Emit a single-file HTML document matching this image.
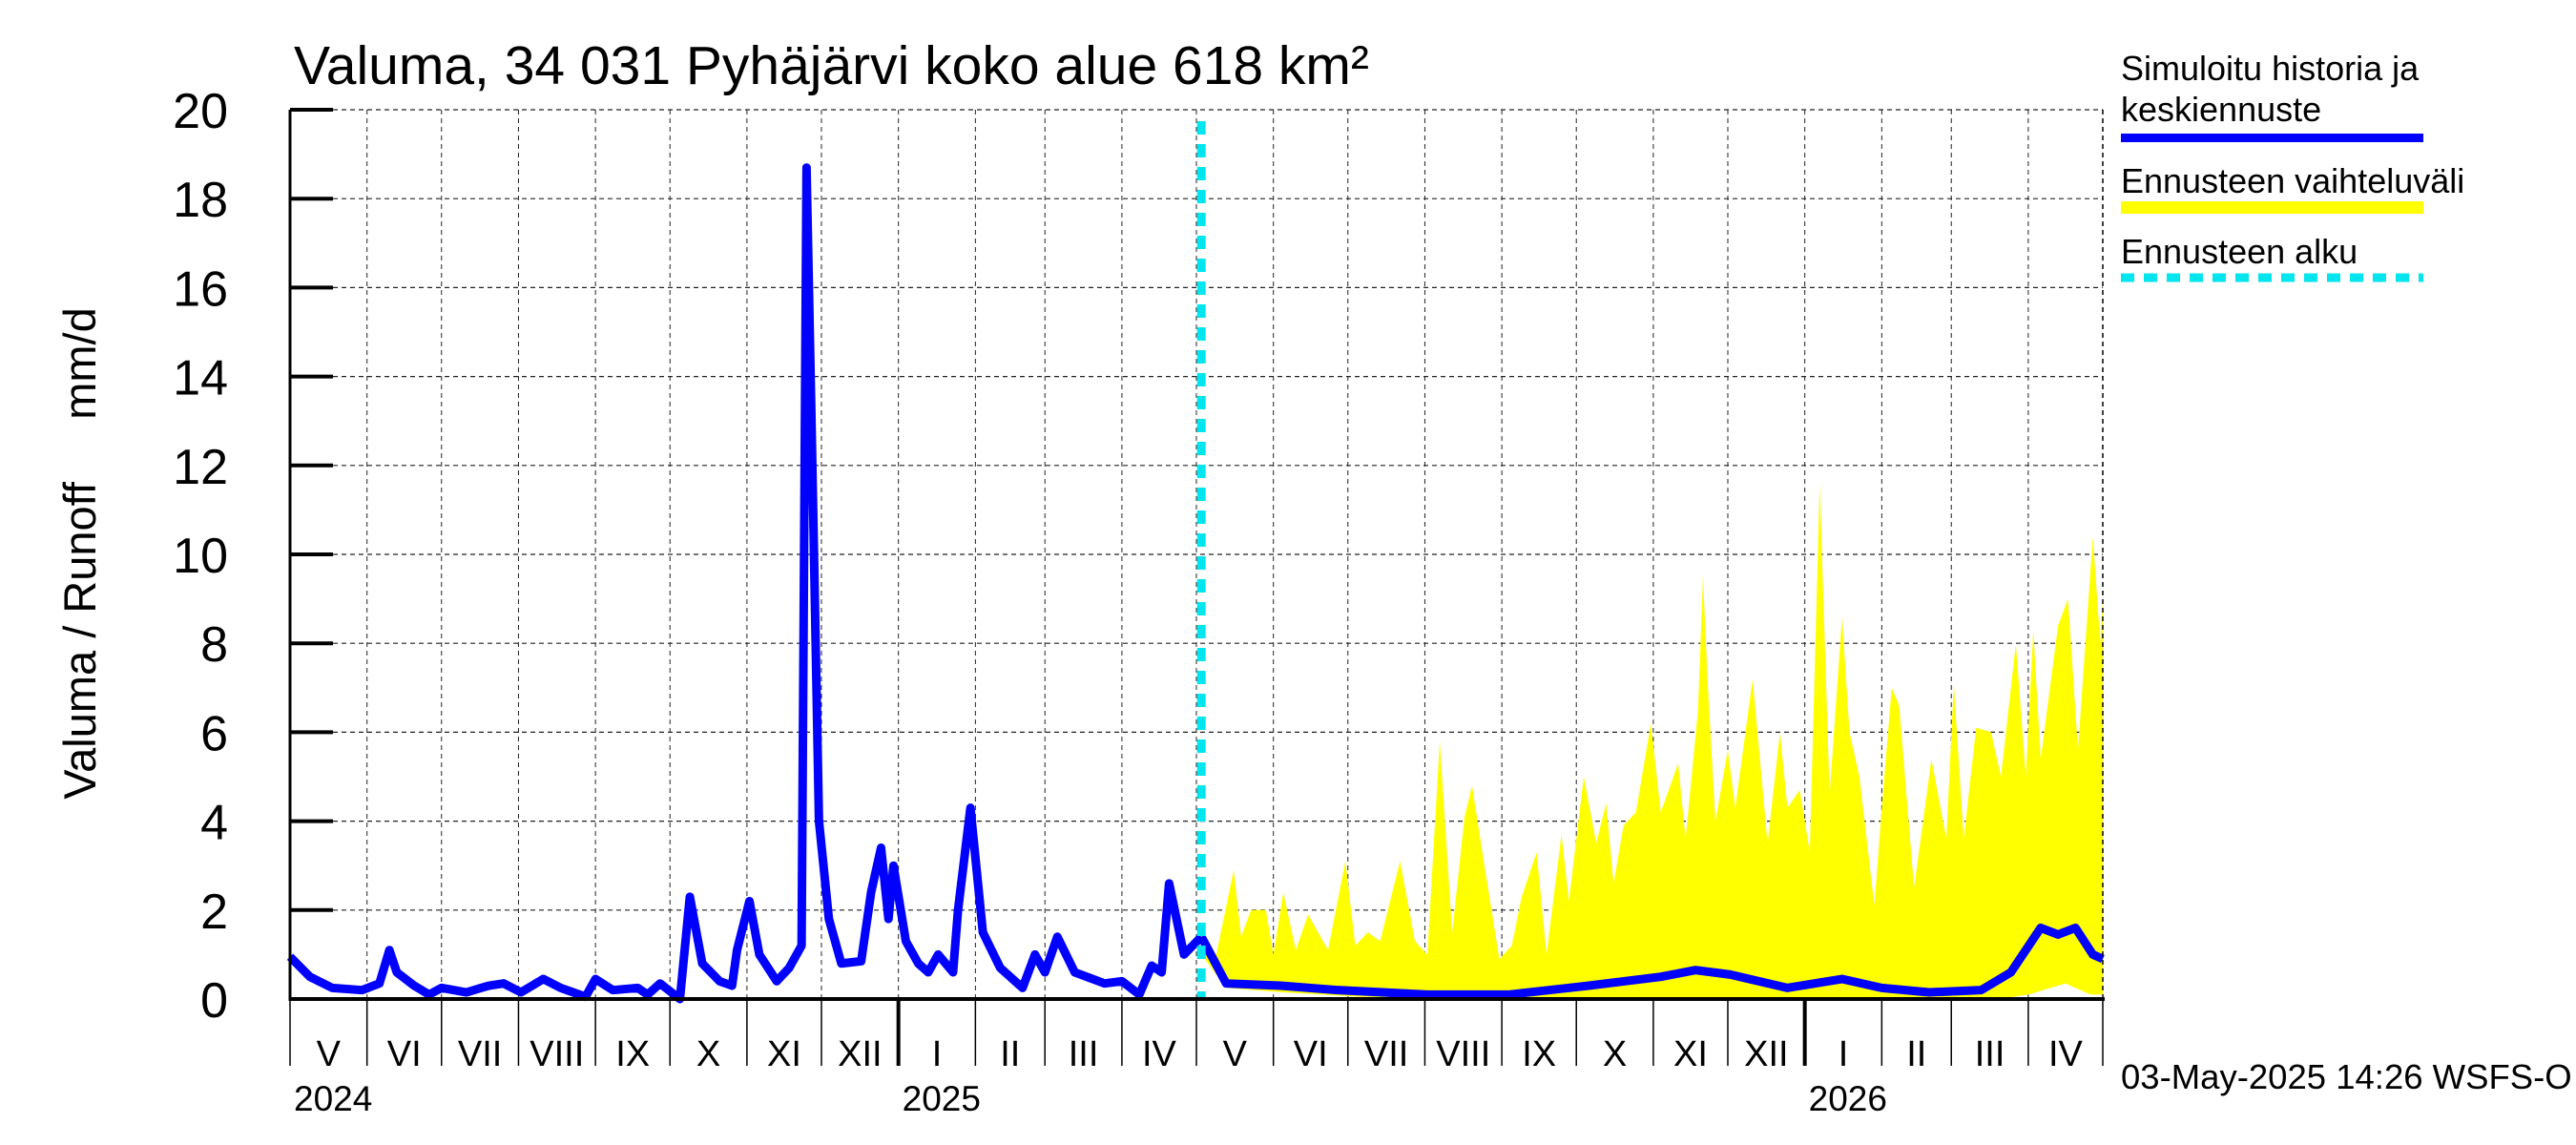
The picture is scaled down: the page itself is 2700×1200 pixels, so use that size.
<!DOCTYPE html>
<html><head><meta charset="utf-8"><style>
html,body{margin:0;padding:0;background:#fff;}
svg{display:block;font-family:"Liberation Sans",Arial,sans-serif;}
</style></head><body>
<svg id="chart" width="2700" height="1200" viewBox="0 0 2700 1200" xmlns="http://www.w3.org/2000/svg">
<rect width="2700" height="1200" fill="#fff"/>
<text x="308" y="88" font-size="57">Valuma, 34 031 Pyhäjärvi koko alue 618 km²</text>
<text transform="translate(100,580) rotate(-90)" text-anchor="middle" font-size="47" xml:space="preserve" style="white-space:pre">Valuma / Runoff     mm/d</text>
<g id="grid"></g>
<g id="bands"></g>
<g id="lines"></g>
<g id="axes"></g>
<g>
<text x="2223" y="84" font-size="36">Simuloitu historia ja</text>
<text x="2223" y="127" font-size="36">keskiennuste</text>
<rect x="2223" y="140" width="317" height="9" fill="#0000ff"/>
<text x="2223" y="202" font-size="36">Ennusteen vaihteluväli</text>
<rect x="2223" y="211" width="317" height="13" fill="#ffff00"/>
<text x="2223" y="276" font-size="36">Ennusteen alku</text>
<line x1="2223" y1="291" x2="2540" y2="291" stroke="#00e5ee" stroke-width="9" stroke-dasharray="14,10"/>
</g>
<text x="2223" y="1141" font-size="36.5">03-May-2025 14:26 WSFS-O</text>
</svg>
<script>
const yTicks=[0,2,4,6,8,10,12,14,16,18,20];
const monthLabels=["V","VI","VII","VIII","IX","X","XI","XII","I","II","III","IV","V","VI","VII","VIII","IX","X","XI","XII","I","II","III","IV"];
const monthStartDays=[0,31,61,92,123,153,184,214,245,276,304,335,365,396,426,457,488,518,549,579,610,641,669,700,730];
const yearLabels=["2024","2025","2026"];
const yearDays=[0,245,610];
const forecastStartDay=367;
const histDays=[0,8,17,29,36,40,43,50,56,61,71,80,86,93,102,109,119,123,130,140,144,149,157,161,166,173,178,180,185,189,196,201,206,208,210,213,217,222,230,234,238,241,243,248,253,257,261,267,269,274,279,286,295,300,304,309,316,328,335,342,347,351,354,360,367];
const histVals=[0.95,0.5,0.25,0.2,0.35,1.1,0.6,0.3,0.1,0.25,0.15,0.3,0.35,0.15,0.45,0.25,0.05,0.45,0.2,0.25,0.1,0.35,0.0,2.3,0.8,0.4,0.3,1.1,2.2,1.0,0.4,0.7,1.2,18.7,13,4,1.8,0.8,0.85,2.4,3.4,1.8,3.0,1.3,0.8,0.6,1.0,0.6,2.0,4.3,1.5,0.7,0.25,1.0,0.6,1.4,0.6,0.35,0.4,0.1,0.75,0.6,2.6,1.0,1.4];
const meanDays=[367,377,399,422,458,491,523,552,566,580,603,625,641,660,681,693,705,712,719,726,730];
const meanVals=[1.4,0.35,0.3,0.2,0.1,0.1,0.3,0.5,0.65,0.55,0.25,0.45,0.25,0.15,0.2,0.6,1.6,1.45,1.6,1.0,0.9];
const upDays=[367,373,380,383,387,393,396,400,405,410,418,425,429,434,439,447,453,458,463,468,473,476,481,487,492,496,502,506,512,515,521,526,530,533,537,542,548,552,559,562,567,569,571,574,579,582,589,595,600,603,608,612,616,620,625,628,632,638,641,645,648,654,661,667,670,674,679,685,689,695,699,702,705,712,716,720,726,729,730];
const upVals=[1.4,1.0,2.9,1.4,2.0,2.0,1.0,2.4,1.1,1.9,1.1,3.1,1.2,1.5,1.3,3.1,1.3,1.0,5.8,1.5,4.1,4.8,3.0,0.9,1.2,2.3,3.3,1.0,3.7,2.2,5.0,3.5,4.4,2.6,3.9,4.2,6.2,4.2,5.3,3.6,6.5,9.5,7.0,4.0,5.6,4.3,7.2,3.5,6.0,4.3,4.7,3.3,11.6,4.6,8.6,6.0,5.0,2.1,4.3,7.0,6.6,2.5,5.4,3.6,7.1,3.6,6.1,6.0,5.0,8.0,5.0,8.3,5.4,8.4,9.0,5.6,10.4,8.0,9.0];
const lowDays=[367,377,400,430,460,690,700,715,725,730];
const lowVals=[1.0,0.25,0.15,0.05,0.02,0.02,0.1,0.35,0.1,0.1];

const X0=304,X1=2204,Y0=1047,Y1=115,DAYS=730,YMAX=20;
function xs(d){return X0+(X1-X0)*d/DAYS;}
function ys(v){return Y0-(Y0-Y1)*v/YMAX;}
const NS="http://www.w3.org/2000/svg";
function mk(tag,attrs,parent){const e=document.createElementNS(NS,tag);for(const k in attrs)e.setAttribute(k,attrs[k]);parent.appendChild(e);return e;}
const grid=document.getElementById('grid'),bands=document.getElementById('bands'),lines=document.getElementById('lines'),axes=document.getElementById('axes');

yTicks.forEach(v=>{
  if(v>0){const g=mk('line',{x1:X0,y1:ys(v),x2:X1,y2:ys(v),stroke:'#222','stroke-width':1.2,'stroke-dasharray':'5,4'},grid);
  
  }
  const t=mk('line',{x1:X0,y1:ys(v),x2:X0+45,y2:ys(v),stroke:'#000','stroke-width':4},axes);
  
  
  const l=mk('text',{x:239,y:ys(v)+19,'text-anchor':'end','font-size':52},axes);
  l.textContent=v;
  
  
});
monthStartDays.forEach((d,i)=>{
  const x=xs(d);
  if(d>0){const g=mk('line',{x1:x,y1:Y1,x2:x,y2:Y0,stroke:'#222','stroke-width':1,'stroke-dasharray':'5,4'},grid);
  
  }
  const isJan=yearDays.indexOf(d)>0;
  const t=mk('line',{x1:x,y1:Y0,x2:x,y2:1117,stroke:'#000','stroke-width':isJan?4:1.5},axes);
  
  
  if(i<monthLabels.length){
    const l=mk('text',{x:(xs(d)+xs(monthStartDays[i+1]))/2,y:1117,'text-anchor':'middle','font-size':38},axes);
    l.textContent=monthLabels[i];
    
    
  }
});
yearLabels.forEach((y,i)=>{
  const l=mk('text',{x:xs(yearDays[i])+4,y:1164,'font-size':37},axes);
  l.textContent=y;
  
  
});
let pts=upDays.map((d,i)=>xs(d)+','+ys(upVals[i]));
for(let i=lowDays.length-1;i>=0;i--)pts.push(xs(lowDays[i])+','+ys(lowVals[i]));
const band=mk('polygon',{points:pts.join(' '),fill:'#ffff00'},bands);


const hist=mk('polyline',{points:histDays.map((d,i)=>xs(d)+','+ys(histVals[i])).join(' '),fill:'none',stroke:'#0000ff','stroke-width':9,'stroke-linejoin':'round'},lines);


const mean=mk('polyline',{points:meanDays.map((d,i)=>xs(d)+','+ys(meanVals[i])).join(' '),fill:'none',stroke:'#0000ff','stroke-width':9,'stroke-linejoin':'round'},lines);


const fs=mk('line',{x1:xs(forecastStartDay),y1:Y1+12,x2:xs(forecastStartDay),y2:Y0,stroke:'#00e5ee','stroke-width':9,'stroke-dasharray':'14,10'},lines);


const ya=mk('line',{x1:X0,y1:Y1,x2:X0,y2:Y0+2,stroke:'#000','stroke-width':3},axes);


const xa=mk('line',{x1:X0,y1:Y0,x2:X1+2,y2:Y0,stroke:'#000','stroke-width':4},axes);


const rb=mk('line',{x1:X1,y1:Y1,x2:X1,y2:Y0,stroke:'#000','stroke-width':1.5,'stroke-dasharray':'5,4'},axes);


</script>
</body></html>
